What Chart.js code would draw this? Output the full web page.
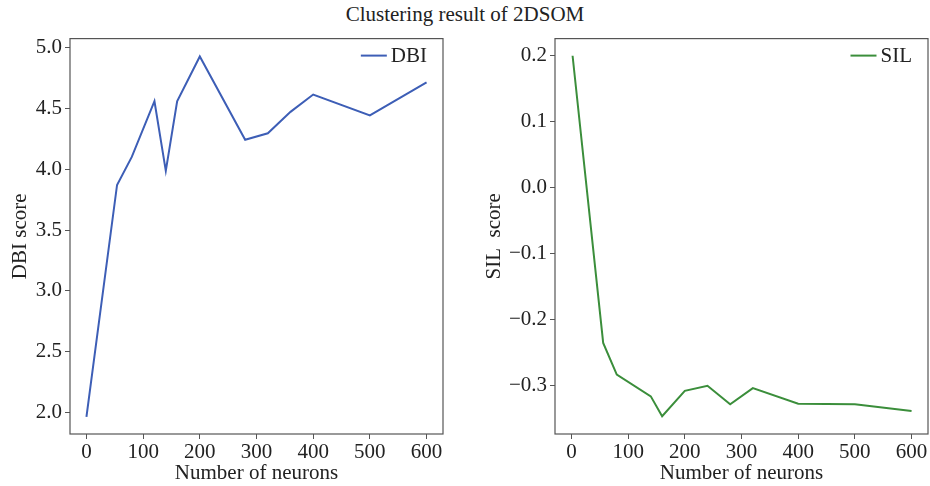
<!DOCTYPE html>
<html>
<head>
<meta charset="utf-8">
<script src="https://cdn.jsdelivr.net/npm/chart.js@4.4.1/dist/chart.umd.min.js"></script>
<style>
  html, body { margin: 0; padding: 0; background: #fff; }
  body { width: 930px; height: 486px; position: relative; overflow: hidden; }
  #title { position: absolute; left: 0; top: 2px; width: 930px; text-align: center;
           font-family: "Liberation Serif", "DejaVu Serif", serif; font-size: 21px; color: #222; }
  .box { position: absolute; top: 23px; height: 463px; }
  #b1 { left: 0; width: 460px; }
  #b2 { left: 470px; width: 460px; }
</style>
</head>
<body>
<div id="title">Clustering result of 2DSOM</div>
<div class="box" id="b1"><canvas id="c1"></canvas></div>
<div class="box" id="b2"><canvas id="c2"></canvas></div>
<script>
// ---- data ----
const dbiNeurons = [0, 54, 80, 120, 140, 160, 200, 280, 320, 360, 400, 500, 600];
const dbiScores  = [1.967, 3.87, 4.10, 4.557, 3.986, 4.557, 4.924, 4.241, 4.294, 4.47, 4.612, 4.44, 4.712];
const silNeurons = [2, 56, 80, 140, 160, 200, 240, 280, 320, 400, 500, 600];
const silScores  = [0.200, -0.235, -0.283, -0.316, -0.346, -0.3076, -0.300, -0.328, -0.3035, -0.327, -0.328, -0.338];
const xTickValues = [0, 100, 200, 300, 400, 500, 600];
const dbiTickValues = [2.0, 2.5, 3.0, 3.5, 4.0, 4.5, 5.0];
const silTickValues = [-0.3, -0.2, -0.1, 0.0, 0.1, 0.2];

const FONT = "'Liberation Serif', 'DejaVu Serif', serif";
const FS = 21;
const TXT = '#222';
const FRAME = '#555';

const framePlugin = {
  id: 'frame',
  afterDraw(chart) {
    const a = chart.chartArea, ctx = chart.ctx;
    ctx.save();
    ctx.strokeStyle = FRAME;
    ctx.lineWidth = 1.2;
    ctx.strokeRect(a.left, a.top, a.right - a.left, a.bottom - a.top);
    // legend inside the plot, top right
    const ds = chart.data.datasets[0];
    ctx.font = FS + 'px ' + FONT;
    ctx.textBaseline = 'middle';
    ctx.textAlign = 'left';
    const tw = ctx.measureText(ds.label).width;
    const y = a.top + 17;
    const tx = a.right - 16 - tw;
    ctx.fillStyle = TXT;
    ctx.fillText(ds.label, tx, y + 1);
    ctx.strokeStyle = ds.borderColor;
    ctx.lineWidth = 2;
    ctx.beginPath();
    ctx.moveTo(tx - 30, y);
    ctx.lineTo(tx - 4, y);
    ctx.stroke();
    ctx.restore();
  }
};

function makeChart(id, xs, ys, label, color, yTicks, yMin, yMax, yTitle, yWidth, padRight, titlePad) {
  const pts = xs.map((x, i) => ({ x: x, y: ys[i] }));
  return new Chart(document.getElementById(id), {
    type: 'line',
    data: { datasets: [{ label: label, data: pts, borderColor: color, backgroundColor: color,
                         borderWidth: 2, pointRadius: 0, tension: 0, fill: false }] },
    options: {
      responsive: true, maintainAspectRatio: false, animation: false,
      layout: { padding: { top: 0, right: padRight, left: 0, bottom: 0 } },
      plugins: {
        title: { display: false },
        tooltip: { enabled: false },
        legend: { display: false }
      },
      scales: {
        x: {
          type: 'linear', min: -29, max: 629,
          afterBuildTicks: s => { s.ticks = xTickValues.map(v => ({ value: v })); },
          afterFit: s => { s.height = 52; },
          grid: { display: true, drawOnChartArea: false, drawTicks: true, tickLength: 5, color: FRAME, lineWidth: 1 },
          border: { display: false },
          ticks: { color: TXT, font: { family: FONT, size: FS }, padding: 1, maxRotation: 0, autoSkip: false },
          title: { display: true, text: 'Number of neurons', color: TXT, font: { family: FONT, size: FS }, padding: { top: -7, bottom: 0 } }
        },
        y: {
          type: 'linear', min: yMin, max: yMax,
          afterBuildTicks: s => { s.ticks = yTicks.map(v => ({ value: v })); },
          afterFit: s => { s.width = yWidth; },
          grid: { display: true, drawOnChartArea: false, drawTicks: true, tickLength: 5, color: FRAME, lineWidth: 1 },
          border: { display: false },
          ticks: { color: TXT, font: { family: FONT, size: FS }, padding: 3, autoSkip: false,
                   callback: v => { const s = Math.abs(v).toFixed(1); return v < -1e-9 ? '\u2212' + s : s; } },
          title: { display: true, text: yTitle, color: TXT, font: { family: FONT, size: FS }, padding: { top: titlePad, bottom: 2 } }
        }
      }
    },
    plugins: [framePlugin]
  });
}

makeChart('c1', dbiNeurons, dbiScores, 'DBI', '#3d5eb6', dbiTickValues, 1.826, 5.071, 'DBI score', 70, 17, 8);
makeChart('c2', silNeurons, silScores, 'SIL', '#3b8e3b', silTickValues, -0.373, 0.226, 'SIL  score', 85, 2, 12);
</script>
</body>
</html>
